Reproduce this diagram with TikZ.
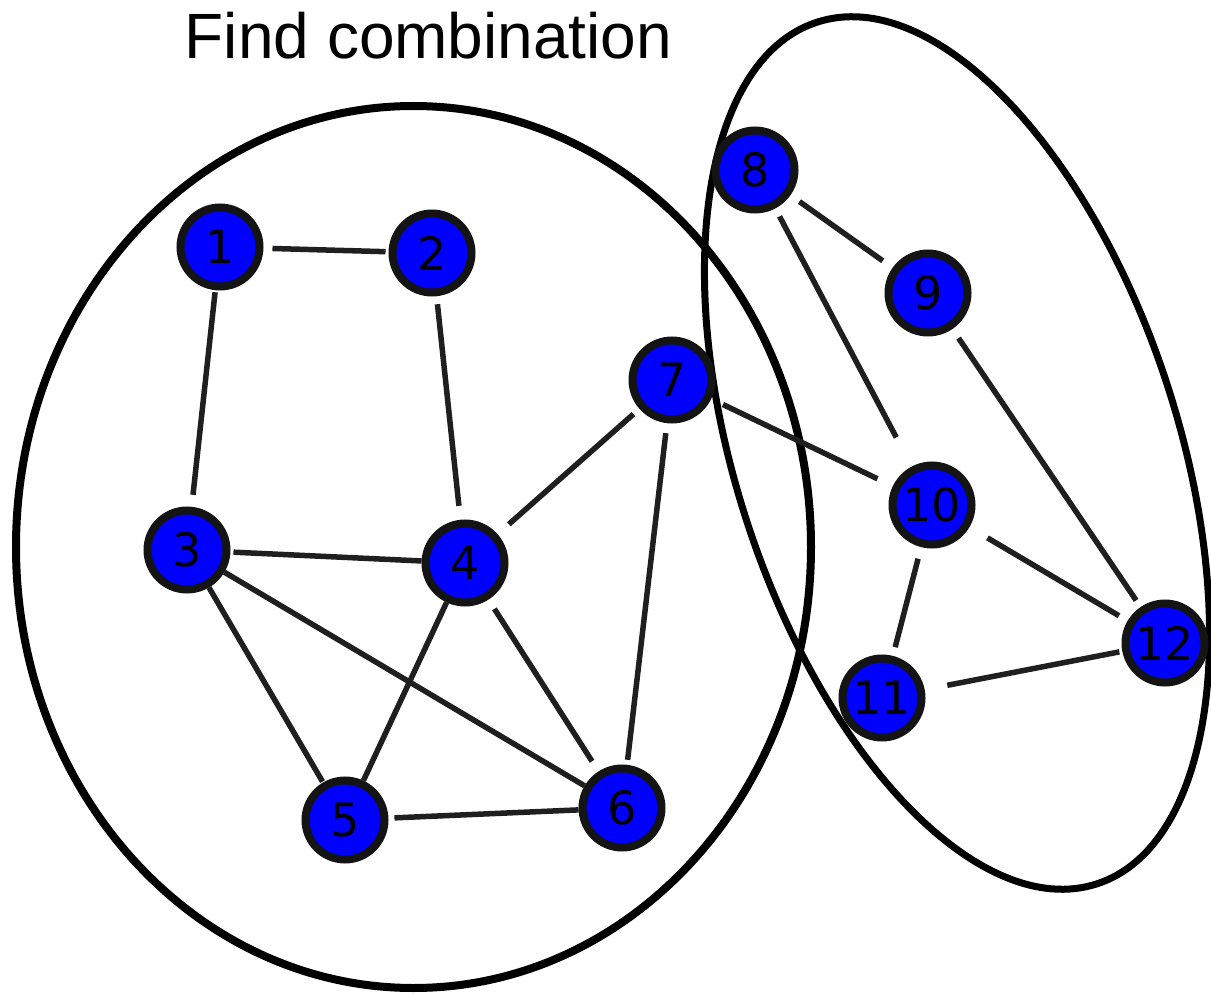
\documentclass[tikz,border=0pt]{standalone}
\usepackage{fontspec}
\setmainfont{Liberation Sans}
\newfontfamily\numfont{DejaVu Sans}
\begin{document}
\begin{tikzpicture}[x=1pt,y=1pt,
  vtx/.style={circle, draw=black!92, line width=8pt, fill=blue, inner sep=0pt,
    minimum size=79pt, font=\numfont\fontsize{46}{46}\selectfont, text=black},
  edge/.style={line width=5.5pt, draw=black!88},
  group/.style={line width=8pt, draw=black}]
\useasboundingbox (0,0) rectangle (1211,-995);
% groups
\draw[group] (413.5,-547) ellipse [x radius=397.5, y radius=441];
\draw[group, line width=7pt, rotate around={18:(957,-453)}] (957,-453) ellipse [x radius=221, y radius=453];
% title
\node[anchor=base, font=\fontsize{64}{64}\selectfont, inner sep=0pt] (title) at (428.5,-59) {Find combination};
% vertices
\node[vtx] (n1) at (220,-247) {1};
\node[vtx] (n2) at (432,-253) {2};
\node[vtx] (n3) at (187,-550) {3};
\node[vtx] (n4) at (465,-563) {4};
\node[vtx] (n5) at (345,-820) {5};
\node[vtx] (n6) at (622,-808) {6};
\node[vtx] (n7) at (672,-380) {7};
\node[vtx] (n8) at (755,-170) {8};
\node[vtx] (n9) at (928,-293) {9};
\node[vtx] (n10) at (932,-505) {10};
\node[vtx] (n11) at (882,-698) {11};
\node[vtx] (n12) at (1165,-643) {12};
% edges
\draw[edge, shorten <=9pt, shorten >=3pt] (n1) -- (n2);
\draw[edge, shorten <=2pt, shorten >=12pt] (n1) -- (n3);
\draw[edge, shorten <=8pt, shorten >=14pt] (n2) -- (n4);
\draw[edge, shorten <=3pt] (n3) -- (n4);
\draw[edge, shorten >=1pt] (n3) -- (n5);
\draw[edge] (n3) -- (n6);
\draw[edge] (n4) -- (n5);
\draw[edge, shorten <=11pt, shorten >=12pt] (n4) -- (n6);
\draw[edge, shorten <=15pt, shorten >=8pt] (n4) -- (n7);
\draw[edge, shorten <=10pt, shorten >=5pt] (n7) -- (n6);
\draw[edge, shorten <=13pt, shorten >=17pt] (n7) -- (n10);
\draw[edge, shorten <=6pt] (n5) -- (n6);
\draw[edge, shorten <=11pt, shorten >=12pt] (n8) -- (n9);
\draw[edge, shorten <=9pt, shorten >=33pt] (n8) -- (n10);
\draw[edge, shorten <=11pt, shorten >=8pt] (n9) -- (n12);
\draw[edge, shorten <=21pt, shorten >=10pt] (n10) -- (n12);
\draw[edge, shorten <=12pt, shorten >=9pt] (n10) -- (n11);
\draw[edge, shorten <=23pt, shorten >=3pt] (n11) -- (n12);
\end{tikzpicture}
\end{document}
